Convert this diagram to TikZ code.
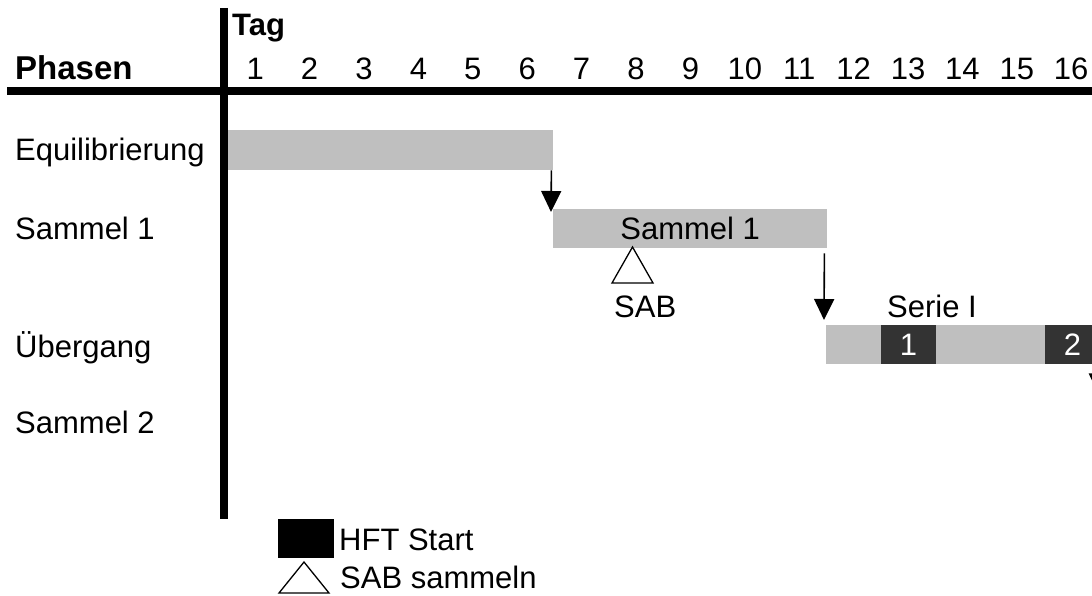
\documentclass[tikz,border=0pt]{standalone}
\usepackage{fontspec}
\setmainfont{Liberation Sans}
\usetikzlibrary{arrows.meta}
\definecolor{barfill}{gray}{0.75}
\definecolor{hftfill}{HTML}{333333}
\tikzset{
  txt/.style={font=\fontsize{31}{36}\selectfont, inner sep=0pt},
  lbl/.style={txt, anchor=base west},
  head/.style={lbl, font=\fontsize{31}{36}\selectfont\bfseries},
  daynum/.style={txt, anchor=base},
  bar/.style={fill=barfill, draw=none, inner sep=0pt, anchor=north west, minimum height=39pt, txt},
  hft/.style={fill=hftfill, draw=none, inner sep=0pt, anchor=north west, minimum height=39pt, minimum width=54.4pt, txt, text=white},
  flow/.style={line width=1.6pt, -{Triangle[width=20pt,length=21pt]}},
  axis/.style={line width=8pt},
  tri/.style={line width=1.3pt, fill=white, line join=miter},
}
\begin{document}
\begin{tikzpicture}[x=1pt,y=-1pt]
  \useasboundingbox (0,0) rectangle (1092,596);
  \clip (0,0) rectangle (1092,596);

  % axes
  \draw[axis] (7,91) -- (1092,91);
  \draw[axis] (224,8) -- (224,519);

  % header
  \node[head, font=\fontsize{33}{38}\selectfont\bfseries] (phasen) at (15,80) {Phasen};
  \node[head] (tag) at (232,36) {Tag};
  \foreach \d in {1,...,16}
    \node[daynum] (d\d) at ({228+(\d-0.5)*54.4},80) {\d};

  % row labels
  \node[lbl] (lEq) at (15,161) {Equilibrierung};
  \node[lbl] (lS1) at (15,239.5) {Sammel 1};
  \node[lbl] (lUe) at (15,357) {Übergang};
  \node[lbl] (lS2) at (15,433) {Sammel 2};

  % phase bars
  \node[bar, minimum height=40pt, minimum width=325pt] (eq) at (228,130) {};
  \node[bar, minimum width=274pt] (s1) at (553,209) {Sammel 1};
  \node[bar, minimum width=290pt] (ue) at (826,325) {};
  \node[hft] (h1) at (881,325) {1};
  \node[hft] (h2) at (1045,325) {2};
  \node[lbl] (serie) at (887,317) {Serie I};

  % transitions
  \draw[flow] ([xshift=-2pt]eq.south east) -- ([xshift=-2pt,yshift=-3pt]s1.north west);
  \draw[flow] ([xshift=-3pt,yshift=-5pt]s1.south east) -- ([xshift=-2pt,yshift=5pt]ue.north west);
  \draw[flow] ([xshift=-1pt,yshift=-2pt]h2.south east) -- ([xshift=-1pt,yshift=-30pt]h2.south east);

  % SAB sampling mark
  \draw[tri] (612,283) -- (632.5,247) -- (653,283) -- cycle;
  \node[lbl] (sab) at (614,317) {SAB};

  % legend
  \node[fill=black, inner sep=0pt, minimum width=56pt, minimum height=39pt, anchor=north west] (keyHft) at (278,519) {};
  \node[lbl] (keyHftTxt) at (339,550) {HFT Start};
  \draw[tri] (279,593) -- (304,562) -- (329,593) -- cycle;
  \node[lbl] (keySabTxt) at (340,588) {SAB sammeln};
\end{tikzpicture}
\end{document}
